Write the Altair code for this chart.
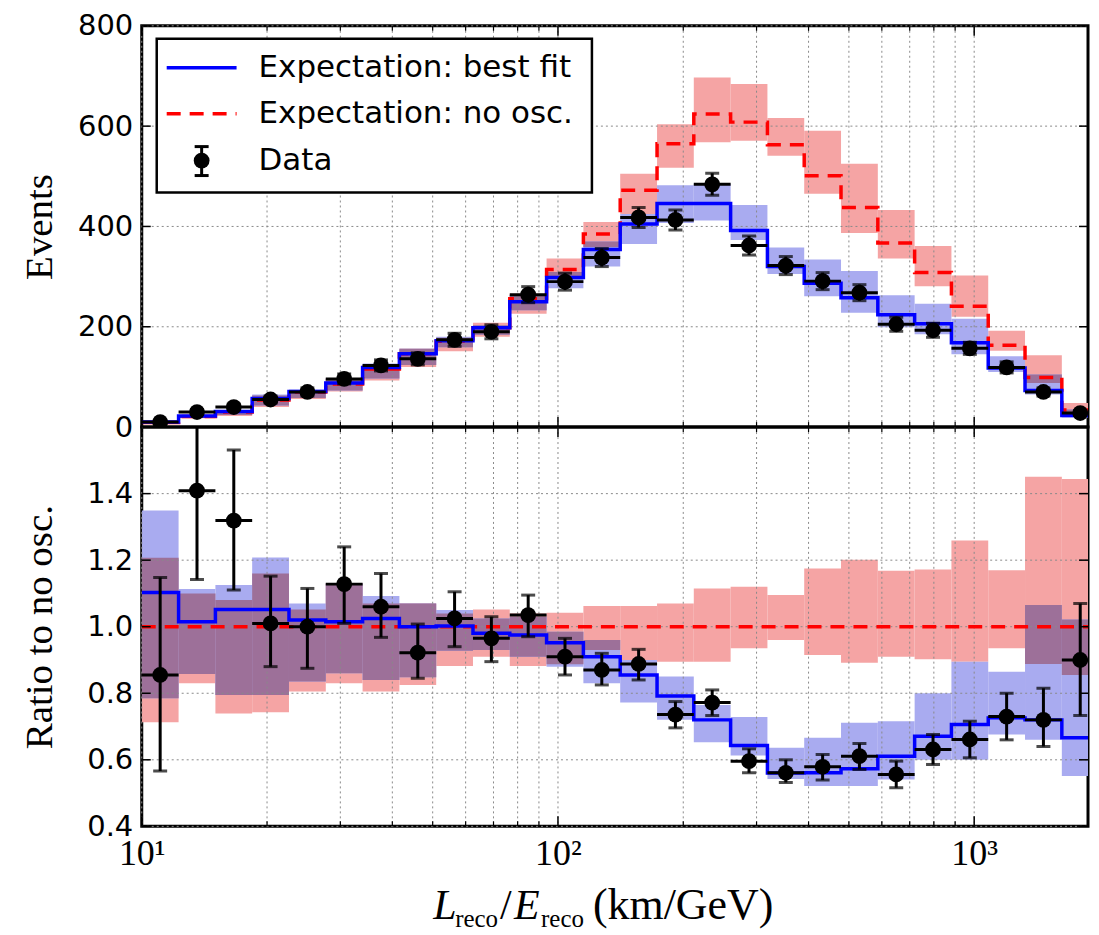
import altair as alt
import pandas as pd
import numpy as np

# ---------------- data ----------------
edges = [10.0, 12.26, 15.03, 18.42, 22.58, 27.68, 33.93, 41.59, 50.98, 62.49,
         76.60, 93.90, 115.1, 141.1, 173.0, 212.0, 259.9, 318.6, 390.5, 478.7,
         586.8, 719.3, 881.7, 1080.8, 1324.8, 1624.0, 1990.7]

# upper panel: events
ev_noosc = [9, 21, 30, 54, 70, 86, 116, 146, 171, 198, 256, 314, 385, 472, 565, 624,
            608, 563, 501, 438, 367, 308, 241, 163, 99, 34]
ev_noosc_lo = [6.5, 17.5, 22, 40, 56, 71, 93, 120, 151, 180, 226, 299, 359, 425, 517, 568,
               571, 541, 465, 387, 336, 281, 220, 152, 88, 29]
ev_noosc_hi = [11, 23, 33, 63, 74, 97, 124, 156, 178, 208, 266, 336, 409, 505, 604, 697,
               684, 616, 591, 525, 433, 361, 302, 192, 143, 48]
ev_best = [10, 22, 31, 57, 71, 88, 119, 146, 172, 198, 250, 298, 354, 405, 446, 446,
           392, 320, 287, 258, 224, 206, 168, 118, 73, 23]
ev_best_lo = [7, 18, 24, 43, 58, 73, 97, 124, 159, 184, 233, 277, 320, 365, 407, 412,
              373, 305, 261, 228, 199, 185, 145, 110, 65, 19]
ev_best_hi = [12, 23.5, 34, 65, 75, 97, 127, 156, 180, 203, 264, 309, 370, 425, 482, 485,
              443, 358, 334, 311, 263, 246, 216, 141, 105, 35]
ev_data = [10, 30, 40, 55, 70, 96, 123, 136, 174, 190, 264, 290, 338, 418, 413, 484,
           362, 322, 291, 268, 205, 193, 157, 119, 70, 28]
ev_data_err = [3, 5, 6, 7, 8, 10, 11, 12, 13, 14, 16, 17, 18, 20, 20, 22,
               19, 18, 17, 16, 14, 14, 12, 11, 8, 5]

# lower panel: ratio to no oscillation
r_best = [1.103, 1.015, 1.052, 1.052, 1.02, 1.015, 1.025, 1.0, 1.002, 0.98, 0.975, 0.952,
          0.91, 0.855, 0.792, 0.72, 0.643, 0.56, 0.561, 0.573, 0.611, 0.671, 0.706, 0.726,
          0.72, 0.666]
r_best_lo = [0.785, 0.858, 0.795, 0.795, 0.835, 0.86, 0.84, 0.848, 0.928, 0.93, 0.91, 0.88,
             0.83, 0.772, 0.72, 0.653, 0.613, 0.542, 0.521, 0.521, 0.541, 0.60, 0.60, 0.676,
             0.66, 0.551]
r_best_hi = [1.349, 1.113, 1.125, 1.208, 1.07, 1.13, 1.092, 1.07, 1.05, 1.025, 1.03, 0.985,
             0.96, 0.90, 0.85, 0.765, 0.729, 0.636, 0.666, 0.711, 0.716, 0.80, 0.895, 0.865,
             1.065, 1.022]
r_noosc_lo = [0.713, 0.83, 0.739, 0.743, 0.805, 0.83, 0.805, 0.825, 0.882, 0.91, 0.882, 0.887,
              0.93, 0.90, 0.895, 0.895, 0.935, 0.96, 0.915, 0.892, 0.91, 0.902, 0.895, 0.935,
              0.888, 0.855]
r_noosc_hi = [1.207, 1.10, 1.08, 1.16, 1.052, 1.13, 1.07, 1.07, 1.04, 1.052, 1.04, 1.042,
              1.062, 1.062, 1.07, 1.115, 1.12, 1.095, 1.175, 1.201, 1.168, 1.172, 1.259, 1.17,
              1.451, 1.444]
r_data = [0.855, 1.409, 1.319, 1.01, 1.0, 1.128, 1.06, 0.922, 1.025, 0.965, 1.035, 0.91,
          0.87, 0.888, 0.736, 0.772, 0.596, 0.561, 0.579, 0.611, 0.556, 0.631, 0.661, 0.73,
          0.72, 0.90]
r_data_lo = [0.566, 1.142, 1.11, 0.88, 0.875, 1.01, 0.968, 0.845, 0.94, 0.895, 0.97, 0.855,
             0.825, 0.84, 0.696, 0.733, 0.561, 0.532, 0.539, 0.571, 0.516, 0.586, 0.606, 0.66,
             0.64, 0.733]
r_data_hi = [1.148, 1.66, 1.531, 1.152, 1.115, 1.24, 1.16, 1.008, 1.105, 1.03, 1.095, 0.965,
             0.92, 0.932, 0.775, 0.81, 0.633, 0.60, 0.616, 0.649, 0.596, 0.676, 0.716, 0.80,
             0.815, 1.07]

x_major = [10, 100, 1000]
x_minor = [20, 30, 40, 50, 60, 70, 80, 90, 200, 300, 400, 500, 600, 700, 800, 900]
y_top_ticks = [0, 200, 400, 600, 800]
y_bot_ticks = [0.4, 0.6, 0.8, 1.0, 1.2, 1.4]
legend_labels = ["Expectation: best fit", "Expectation: no osc.", "Data"]

# ---------------- tables ----------------
bins = pd.DataFrame({
    "lo": edges[:-1], "hi": edges[1:],
    "nlo": ev_noosc_lo, "nhi": ev_noosc_hi, "blo": ev_best_lo, "bhi": ev_best_hi,
    "d": ev_data, "derr": ev_data_err,
    "rblo": r_best_lo, "rbhi": r_best_hi, "rnlo": r_noosc_lo, "rnhi": r_noosc_hi,
    "rd": r_data, "rdlo": r_data_lo, "rdhi": r_data_hi,
})
bins["ctr"] = np.sqrt(bins["lo"] * bins["hi"])
bins["dlo"] = bins["d"] - bins["derr"]
bins["dhi"] = bins["d"] + bins["derr"]
# where the two uncertainty bands overlap (drawn in the mixed colour)
bins["olo"] = np.maximum(bins["nlo"], bins["blo"])
bins["ohi"] = np.minimum(bins["nhi"], bins["bhi"])
bins["rolo"] = np.maximum(bins["rnlo"], bins["rblo"])
bins["rohi"] = np.minimum(bins["rnhi"], bins["rbhi"])
ov_top = bins[bins["olo"] < bins["ohi"]]
ov_bot = bins[bins["rolo"] < bins["rohi"]]

steps = pd.DataFrame({
    "x": edges,
    "noosc": ev_noosc + ev_noosc[-1:],
    "best": ev_best + ev_best[-1:],
    "rbest": r_best + r_best[-1:],
    "one": [1.0] * len(edges),
})
xmaj = pd.DataFrame({"v": x_major})
xmin = pd.DataFrame({"v": x_minor})
xgrid = pd.DataFrame({"v": x_major + x_minor})
ytop = pd.DataFrame({"v": y_top_ticks})
ybot = pd.DataFrame({"v": y_bot_ticks})
one = pd.DataFrame({"a": [0]})

W, HT, HB = 948, 402, 400
RED, BLUE = "#ff0000", "#0000ff"
RED_BAND, BLUE_BAND, MIX_BAND = "#f5a4a4", "#a9abf0", "#9d7099"
GRID_COLOR = "#8a8a8a"

xs = alt.Scale(type="log", domain=[10, 1877], nice=False)
yst = alt.Scale(domain=[0, 800], nice=False, zero=False)
ysb = alt.Scale(domain=[0.4, 1.6], nice=False, zero=False)

xax_bot = alt.Axis(values=x_major, ticks=False, domain=False, grid=False, title=None,
                   labelExpr="datum.value == 10 ? '10¹' : datum.value == 100 ? '10²' : '10³'",
                   labelFont="Liberation Serif", labelFontSize=36, labelColor="black",
                   labelPadding=10, labelFlush=False, labelOverlap=False)

def yaxis(vals, title, fmt):
    return alt.Axis(values=vals, ticks=False, domain=False, grid=False, title=title, format=fmt,
                    labelFont="DejaVu Sans", labelFontSize=29, labelColor="black",
                    labelPadding=9, labelFlush=False,
                    titleFont="Liberation Serif", titleFontSize=39, titleFontWeight="normal",
                    titleColor="black", titlePadding=12, minExtent=70, maxExtent=70)


def grid_layers(h, ydf, yscale):
    gx = alt.Chart(xgrid).mark_rule(color=GRID_COLOR, strokeWidth=1, strokeDash=[2, 3]).encode(
        x=alt.X("v:Q", scale=xs), y=alt.value(0), y2=alt.value(h))
    gy = alt.Chart(ydf).mark_rule(color=GRID_COLOR, strokeWidth=1, strokeDash=[2, 3]).encode(
        y=alt.Y("v:Q", scale=yscale), x=alt.value(0), x2=alt.value(W))
    return [gx, gy]


def inward_ticks(h, ydf, yscale):
    major_len, minor_len, ylen = 10, 5, 9
    t = alt.Chart(xmaj).mark_rule(color="black", strokeWidth=1.5).encode(
        x=alt.X("v:Q", scale=xs), y=alt.value(0), y2=alt.value(major_len))
    b = alt.Chart(xmaj).mark_rule(color="black", strokeWidth=1.5).encode(
        x=alt.X("v:Q", scale=xs), y=alt.value(h - major_len), y2=alt.value(h))
    tm = alt.Chart(xmin).mark_rule(color="black", strokeWidth=1.2).encode(
        x=alt.X("v:Q", scale=xs), y=alt.value(0), y2=alt.value(minor_len))
    bm = alt.Chart(xmin).mark_rule(color="black", strokeWidth=1.2).encode(
        x=alt.X("v:Q", scale=xs), y=alt.value(h - minor_len), y2=alt.value(h))
    l = alt.Chart(ydf).mark_rule(color="black", strokeWidth=1.5).encode(
        y=alt.Y("v:Q", scale=yscale), x=alt.value(0), x2=alt.value(ylen))
    r = alt.Chart(ydf).mark_rule(color="black", strokeWidth=1.5).encode(
        y=alt.Y("v:Q", scale=yscale), x=alt.value(W - ylen), x2=alt.value(W))
    return [t, b, tm, bm, l, r]


def band_layers(lo_n, hi_n, lo_b, hi_b, lo_o, hi_o, ov, yscale, xaxis, yax):
    red = alt.Chart(bins).mark_rect(color=RED_BAND, opacity=1, clip=True).encode(
        x=alt.X("lo:Q", scale=xs, axis=xaxis), x2="hi:Q",
        y=alt.Y(f"{lo_n}:Q", scale=yscale, axis=yax), y2=f"{hi_n}:Q")
    blue = alt.Chart(bins).mark_rect(color=BLUE_BAND, opacity=1, clip=True).encode(
        x=alt.X("lo:Q", scale=xs), x2="hi:Q", y=alt.Y(f"{lo_b}:Q", scale=yscale), y2=f"{hi_b}:Q")
    mix = alt.Chart(ov).mark_rect(color=MIX_BAND, opacity=1, clip=True).encode(
        x=alt.X("lo:Q", scale=xs), x2="hi:Q", y=alt.Y(f"{lo_o}:Q", scale=yscale), y2=f"{hi_o}:Q")
    return [red, blue, mix]


def data_layers(ycol, lo, hi, yscale):
    base = alt.Chart(bins)
    vert = base.mark_rule(color="black", strokeWidth=3, clip=True).encode(
        x=alt.X("ctr:Q", scale=xs), y=alt.Y(f"{lo}:Q", scale=yscale), y2=f"{hi}:Q")
    horiz = base.mark_rule(color="black", strokeWidth=3, clip=True).encode(
        x=alt.X("lo:Q", scale=xs), x2="hi:Q", y=alt.Y(f"{ycol}:Q", scale=yscale))
    cap1 = base.mark_tick(color="black", orient="horizontal", size=14, thickness=3, clip=True).encode(
        x=alt.X("ctr:Q", scale=xs), y=alt.Y(f"{lo}:Q", scale=yscale))
    cap2 = base.mark_tick(color="black", orient="horizontal", size=14, thickness=3, clip=True).encode(
        x=alt.X("ctr:Q", scale=xs), y=alt.Y(f"{hi}:Q", scale=yscale))
    pts = base.mark_circle(color="black", size=250, opacity=1, clip=True).encode(
        x=alt.X("ctr:Q", scale=xs), y=alt.Y(f"{ycol}:Q", scale=yscale))
    return [vert, horiz, cap1, cap2, pts]


# ---------------- top panel ----------------
red_line = alt.Chart(steps).mark_line(interpolate="step-after", color=RED, strokeWidth=3.5,
                                      strokeDash=[14, 9], clip=True).encode(
    x=alt.X("x:Q", scale=xs), y=alt.Y("noosc:Q", scale=yst))
blue_line = alt.Chart(steps).mark_line(interpolate="step-after", color=BLUE, strokeWidth=3.5,
                                       clip=True).encode(
    x=alt.X("x:Q", scale=xs), y=alt.Y("best:Q", scale=yst))

# legend (inside upper panel)
lg_box = alt.Chart(one).mark_rect(fill="white", stroke="black", strokeWidth=2.5).encode(
    x=alt.value(15), x2=alt.value(451), y=alt.value(13), y2=alt.value(167))
lg_blue = alt.Chart(one).mark_rule(color=BLUE, strokeWidth=3.5).encode(
    x=alt.value(25), x2=alt.value(95), y=alt.value(42))
lg_red = alt.Chart(one).mark_rule(color=RED, strokeWidth=3.5, strokeDash=[14, 9]).encode(
    x=alt.value(25), x2=alt.value(95), y=alt.value(88))
lg_err = alt.Chart(one).mark_rule(color="black", strokeWidth=3).encode(
    x=alt.value(60), y=alt.value(121), y2=alt.value(150))
lg_cap1 = alt.Chart(one).mark_rule(color="black", strokeWidth=3).encode(
    x=alt.value(53), x2=alt.value(67), y=alt.value(121))
lg_cap2 = alt.Chart(one).mark_rule(color="black", strokeWidth=3).encode(
    x=alt.value(53), x2=alt.value(67), y=alt.value(150))
lg_pt = alt.Chart(one).mark_circle(color="black", size=250, opacity=1).encode(
    x=alt.value(60), y=alt.value(135))
lg_texts = [
    alt.Chart(one).mark_text(text=legend_labels[i], align="left", baseline="middle",
                             font="DejaVu Sans", fontSize=31, color="black").encode(
        x=alt.value(117), y=alt.value(yy))
    for i, yy in enumerate([42, 88, 135])
]

top = alt.layer(
    *band_layers("nlo", "nhi", "blo", "bhi", "olo", "ohi", ov_top, yst, None,
                 yaxis(y_top_ticks, "Events", "d")),
    *grid_layers(HT, ytop, yst),
    red_line, blue_line,
    *data_layers("d", "dlo", "dhi", yst),
    *inward_ticks(HT, ytop, yst),
    lg_box, lg_blue, lg_red, lg_err, lg_cap1, lg_cap2, lg_pt, *lg_texts,
).properties(width=W, height=HT)

# ---------------- bottom panel ----------------
r_red_line = alt.Chart(steps).mark_line(color=RED, strokeWidth=3.5, strokeDash=[14, 9],
                                        clip=True).encode(
    x=alt.X("x:Q", scale=xs), y=alt.Y("one:Q", scale=ysb))
r_blue_line = alt.Chart(steps).mark_line(interpolate="step-after", color=BLUE, strokeWidth=3.5,
                                         clip=True).encode(
    x=alt.X("x:Q", scale=xs), y=alt.Y("rbest:Q", scale=ysb))

# x-axis title pieces: L_reco / E_reco (km/GeV)
title_parts = [
    ("L", 292, 493, 42, "italic"),
    ("reco", 314, 501, 25, "normal"),
    ("/", 359, 493, 42, "normal"),
    ("E", 373, 493, 42, "italic"),
    ("reco", 400, 501, 25, "normal"),
    ("(km/GeV)", 452, 493, 44, "normal"),
]
xtitle = [
    alt.Chart(one).mark_text(text=t, align="left", baseline="alphabetic", font="Liberation Serif",
                             fontSize=fs, fontStyle=st, color="black").encode(
        x=alt.value(xx), y=alt.value(yy))
    for t, xx, yy, fs, st in title_parts
]

bottom = alt.layer(
    *band_layers("rnlo", "rnhi", "rblo", "rbhi", "rolo", "rohi", ov_bot, ysb, xax_bot,
                 yaxis(y_bot_ticks, "Ratio to no osc.", ".1f")),
    *grid_layers(HB, ybot, ysb),
    r_red_line, r_blue_line,
    *data_layers("rd", "rdlo", "rdhi", ysb),
    *inward_ticks(HB, ybot, ysb),
    *xtitle,
).properties(width=W, height=HB)

chart = alt.vconcat(top, bottom, spacing=0, bounds="flush").properties(
    padding={"left": 11, "top": 1, "right": 0, "bottom": 0},
    background="white",
).configure_view(stroke="black", strokeWidth=3)

chart.save("out.html", embed_options={"renderer": "svg", "actions": False})
